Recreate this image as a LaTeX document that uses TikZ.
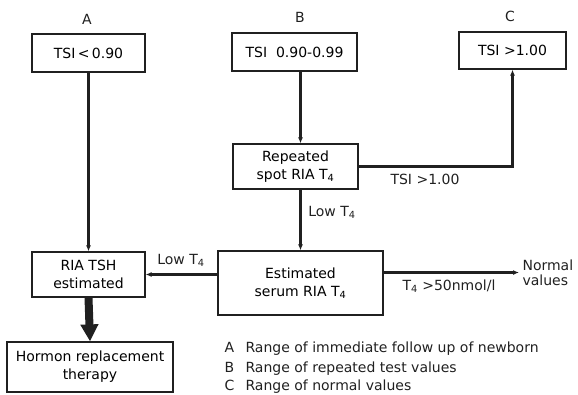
\documentclass[tikz,border=0pt]{standalone}
\usepackage{fontspec}
\setmainfont{DejaVu Sans}
\usepackage{tikz}
\usetikzlibrary{arrows.meta,calc,positioning}
\definecolor{inkgray}{HTML}{202020}
\tikzset{
  stepbox/.style={draw=inkgray,line width=1.2pt,align=center,inner sep=2pt,font=\fontsize{14}{18}\selectfont},
  flow/.style={-{Latex[length=6pt,width=5pt]},line width=2.5pt,inkgray},
  bigflow/.style={-{Triangle[length=17pt,width=17pt]},line width=8pt,inkgray},
  lbl/.style={inkgray,font=\fontsize{14}{17}\selectfont},
  legend/.style={inkgray,anchor=west,font=\fontsize{14}{17}\selectfont}
}
\newcommand{\Tfour}{T\textsubscript{4}}
\begin{document}
\begin{tikzpicture}[x=1pt,y=-1pt]
  \useasboundingbox (0,0) rectangle (578,394);
  % range headings
  \node[lbl] (hA) at (87,19) {A};
  \node[lbl] (hB) at (300,17) {B};
  \node[lbl] (hC) at (510,16) {C};
  % boxes
  \node[stepbox,minimum width=113pt,minimum height=38pt] (boxA) at (88.5,53) {TSI\,<\,0.90};
  \node[stepbox,minimum width=125pt,minimum height=38pt] (boxB) at (294.5,52) {TSI \ 0.90-0.99};
  \node[stepbox,minimum width=107pt,minimum height=37pt] (boxC) at (512.5,50.5) {TSI >1.00};
  \node[stepbox,minimum width=125pt,minimum height=45pt] (repeated) at (295.5,166.5) {Repeated\\spot RIA \Tfour};
  \node[stepbox,minimum width=165pt,minimum height=64pt] (estimated) at (300.5,283) {Estimated\\serum RIA \Tfour};
  \node[stepbox,minimum width=113pt,minimum height=45pt] (riatsh) at (88.5,274.5) {RIA TSH\\estimated};
  \node[stepbox,minimum width=166pt,minimum height=50pt] (hormon) at (90,367) {Hormon replacement\\therapy};
  \node[lbl,anchor=west,align=left,font=\fontsize{14}{15}\selectfont] (normal) at (519,272.5) {Normal\\values};
  % connectors
  \draw[flow] (boxA.south -| riatsh.north) -- (riatsh.north);
  \draw[flow] (boxB.south -| estimated.north) -- (repeated.north -| estimated.north);
  \draw[flow] (repeated.east) -| (boxC.south);
  \draw[flow] (repeated.south -| estimated.north) -- (estimated.north);
  \draw[flow] (estimated.west |- riatsh.east) -- (riatsh.east);
  \draw[flow] (estimated.east |- normal.west) -- (normal.west);
  \draw[bigflow] (riatsh.south) -- (hormon.north);
  % connector labels
  \node[lbl] (l1) at (425,179) {TSI >1.00};
  \node[lbl] (l2) at (332,212) {Low \Tfour};
  \node[lbl] (l3) at (181,260) {Low \Tfour};
  \node[lbl] (l4) at (449,286) {\Tfour\ >50nmol/l};
  % legend
  \node[legend] (legA) at (221,349) {\makebox[21pt][l]{A}Range of immediate follow up of newborn};
  \node[legend] (legB) at (221,369) {\makebox[21pt][l]{B}Range of repeated test values};
  \node[legend] (legC) at (221,387) {\makebox[21pt][l]{C}Range of normal values};
\end{tikzpicture}
\end{document}
